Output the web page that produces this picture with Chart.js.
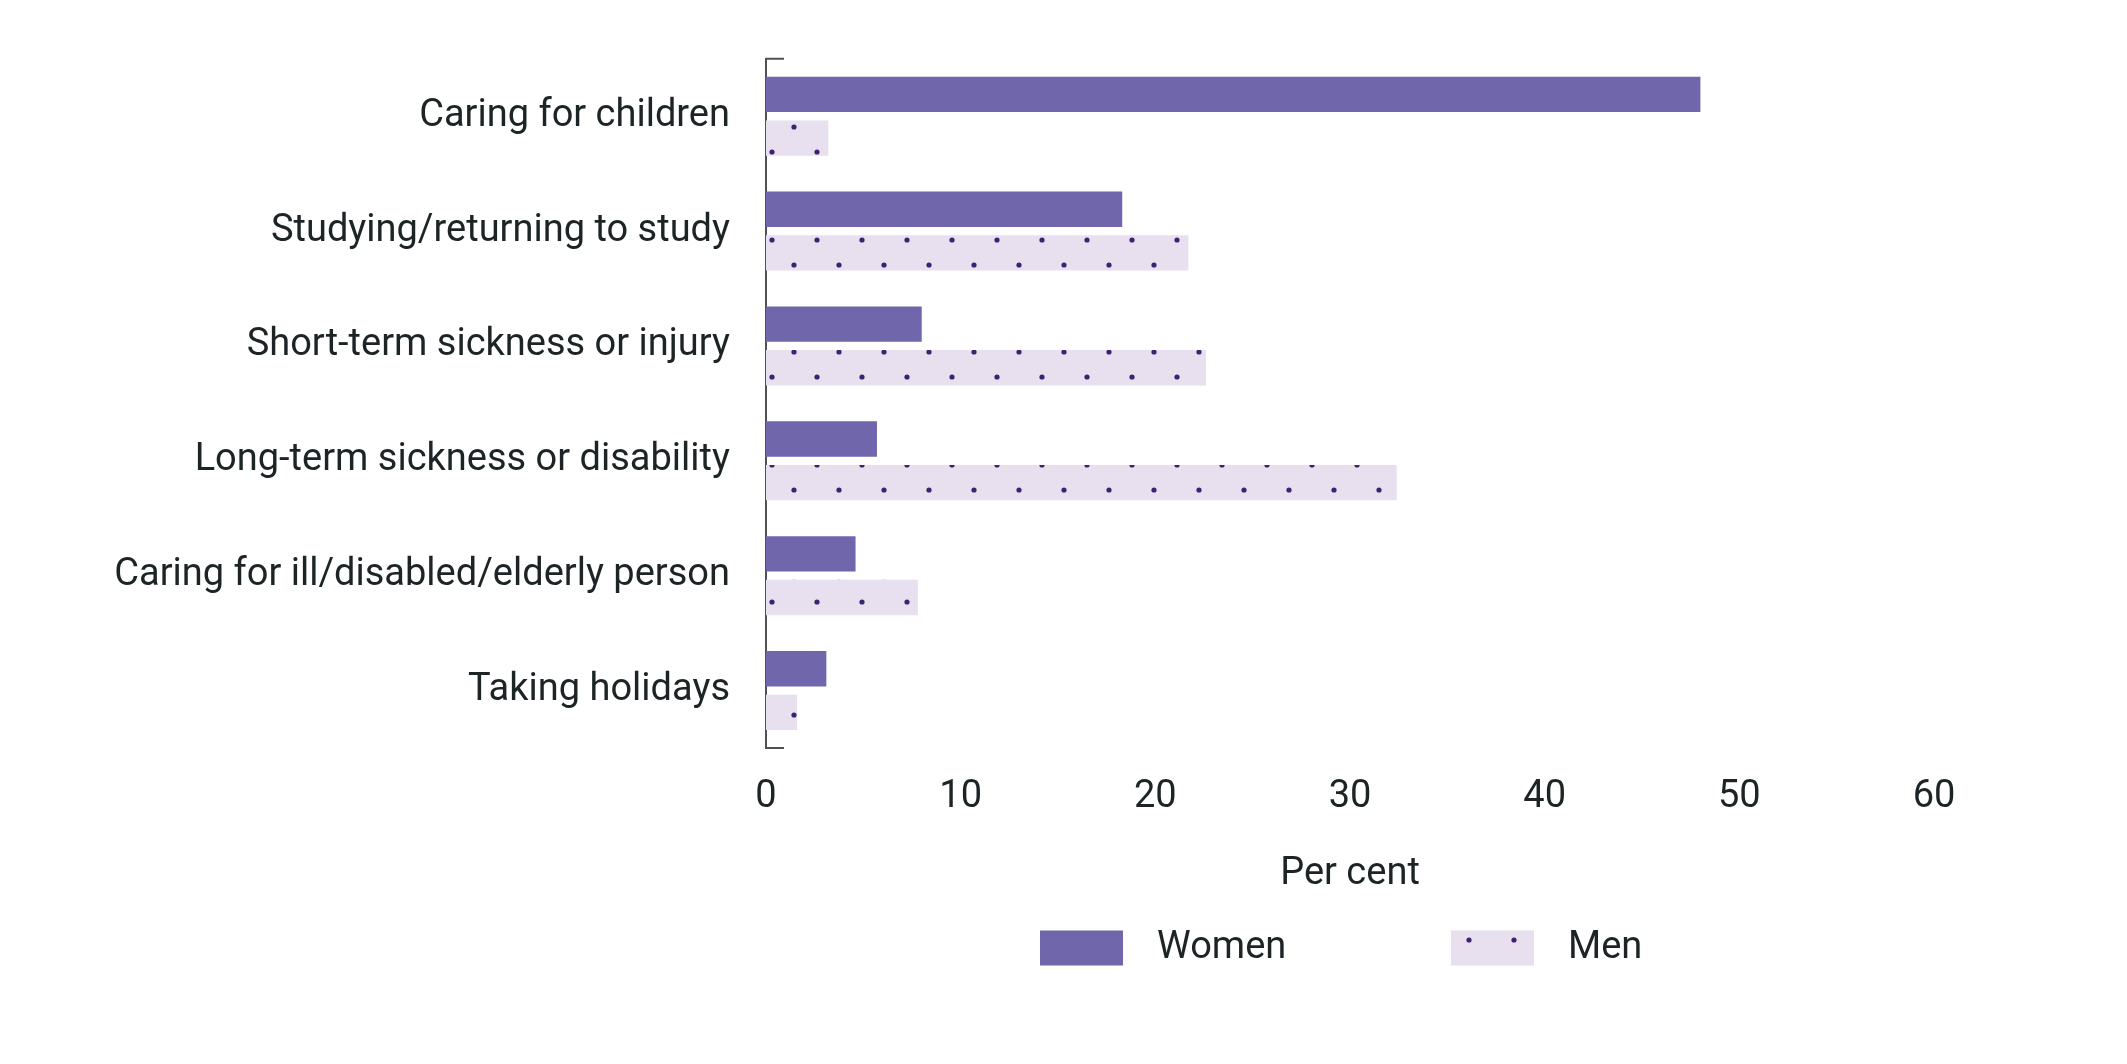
<!DOCTYPE html>
<html>
<head>
<meta charset="utf-8">
<script src="https://cdn.jsdelivr.net/npm/chart.js@4.4.1/dist/chart.umd.min.js"></script>
<style>
    html, body { margin: 0; padding: 0; background: #ffffff; }
    canvas { display: block; }
</style>
</head>
<body>
<canvas id="reasonsChart" width="2127" height="1064"></canvas>
<script>
const categories = [
    'Caring for children',
    'Studying/returning to study',
    'Short-term sickness or injury',
    'Long-term sickness or disability',
    'Caring for ill/disabled/elderly person',
    'Taking holidays'
];
const womenValues = [48.0, 18.3, 8.0, 5.7, 4.6, 3.1];
const menValues = [3.2, 21.7, 22.6, 32.4, 7.8, 1.6];
const seriesNames = ['Women', 'Men'];
const xTickValues = [0, 10, 20, 30, 40, 50, 60];
const axisTitle = 'Per cent';

const FONT = { family: 'Roboto, "Liberation Sans", sans-serif', size: 38 };
const TEXT_COLOR = '#1c2426';
const WOMEN_COLOR = '#7066ab';
const MEN_FILL = '#e8e0ef';
const DOT_COLOR = '#3d2273';

// light lilac tile with staggered dark dots, used for the Men bars
function makeDotPattern(ctx) {
    const tile = document.createElement('canvas');
    tile.width = 45;
    tile.height = 225;
    const t = tile.getContext('2d');
    t.fillStyle = MEN_FILL;
    t.fillRect(0, 0, tile.width, tile.height);
    t.fillStyle = DOT_COLOR;
    [[29, 127], [7, 152], [7, 15], [29, 40]].forEach(([x, y]) => {
        t.beginPath();
        t.arc(x, y, 2.6, 0, Math.PI * 2);
        t.fill();
    });
    return ctx.createPattern(tile, 'repeat');
}

// small horizontal caps at both ends of the category axis line
const axisCaps = {
    id: 'axisCaps',
    afterDraw(chart) {
        const { ctx, chartArea } = chart;
        ctx.save();
        ctx.strokeStyle = '#4d5353';
        ctx.lineWidth = 2;
        ctx.beginPath();
        ctx.moveTo(chartArea.left, chartArea.top);
        ctx.lineTo(chartArea.left + 18, chartArea.top);
        ctx.moveTo(chartArea.left, chartArea.bottom);
        ctx.lineTo(chartArea.left + 18, chartArea.bottom);
        ctx.stroke();
        ctx.restore();
    }
};

// legend row under the axis title, centred on the plot area
const bottomLegend = {
    id: 'bottomLegend',
    afterDraw(chart) {
        const { ctx, chartArea } = chart;
        const cx = (chartArea.left + chartArea.right) / 2;
        const cy = 948;
        const items = [
            { x: cx - 310, ds: chart.data.datasets[0] },
            { x: cx + 101, ds: chart.data.datasets[1] }
        ];
        ctx.save();
        ctx.font = `${FONT.size}px ${FONT.family}`;
        ctx.textBaseline = 'middle';
        ctx.textAlign = 'left';
        items.forEach(item => {
            ctx.fillStyle = item.ds.backgroundColor;
            ctx.fillRect(item.x, cy - 17.5, 83, 35);
            ctx.fillStyle = TEXT_COLOR;
            ctx.fillText(item.ds.label, item.x + 117, cy);
        });
        ctx.restore();
    }
};

const canvas = document.getElementById('reasonsChart');
const ctx = canvas.getContext('2d');
const menPattern = makeDotPattern(ctx);

new Chart(ctx, {
    type: 'bar',
    data: {
        labels: categories,
        datasets: [
            {
                label: seriesNames[0],
                data: womenValues,
                backgroundColor: WOMEN_COLOR,
                borderWidth: 0
            },
            {
                label: seriesNames[1],
                data: menValues,
                backgroundColor: menPattern,
                borderWidth: 0
            }
        ]
    },
    options: {
        indexAxis: 'y',
        responsive: false,
        animation: false,
        categoryPercentage: 0.76,
        barPercentage: 0.81,
        layout: {
            padding: { top: 50, right: 193, bottom: 0, left: 0 }
        },
        plugins: {
            legend: { display: false },
            tooltip: { enabled: false }
        },
        scales: {
            x: {
                min: 0,
                max: 60,
                afterBuildTicks(scale) {
                    scale.ticks = xTickValues.map(v => ({ value: v }));
                },
                afterFit(scale) {
                    scale.height = 316;
                },
                grid: { display: false, drawTicks: false },
                border: { display: false },
                ticks: {
                    padding: 27,
                    color: TEXT_COLOR,
                    font: FONT
                },
                title: {
                    display: true,
                    text: axisTitle,
                    color: TEXT_COLOR,
                    font: FONT,
                    padding: { top: 10, bottom: 167 }
                }
            },
            y: {
                z: 1,
                afterFit(scale) {
                    scale.width = 766;
                },
                grid: { display: false, drawTicks: false },
                border: { display: true, color: '#4d5353', width: 2 },
                ticks: {
                    padding: 36,
                    color: TEXT_COLOR,
                    font: FONT
                }
            }
        }
    },
    plugins: [axisCaps, bottomLegend]
});
</script>
</body>
</html>
